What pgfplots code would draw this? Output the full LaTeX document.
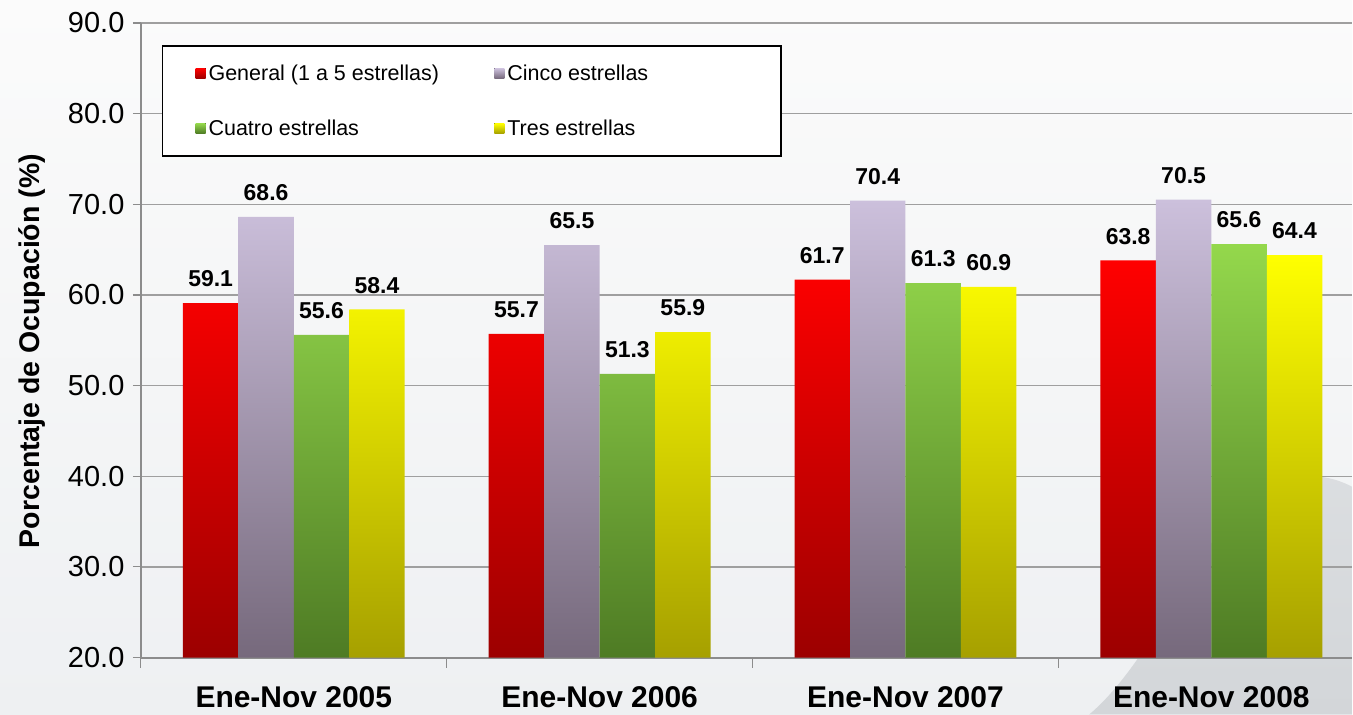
\documentclass[border=0pt]{standalone}
\usepackage{pgfplots}
\pgfplotsset{compat=1.18}
\usepackage{fontspec}
\setmainfont{Liberation Sans}
\definecolor{rtop}{HTML}{FF0000}\definecolor{rbot}{HTML}{9C0000}
\definecolor{ptop}{HTML}{CCC0DC}\definecolor{pbot}{HTML}{76697C}
\definecolor{gtop}{HTML}{94D84C}\definecolor{gbot}{HTML}{4E7B24}
\definecolor{ytop}{HTML}{FFFF00}\definecolor{ybot}{HTML}{A6A000}
\definecolor{bgtop}{HTML}{FBFBFB}\definecolor{bgbot}{HTML}{EEF0F2}
\definecolor{mtn}{HTML}{D3D6D9}
\definecolor{axgray}{HTML}{8C8C8C}
\begin{document}
\begin{tikzpicture}[x=1pt,y=1pt]
\shade[top color=bgtop,bottom color=bgbot] (0,0) rectangle (1353,715);
\shade[top color=mtn!70!bgbot,bottom color=mtn] (1090,0) .. controls (1150,50) and (1200,170) .. (1240,205) .. controls (1270,235) and (1310,250) .. (1353,228) -- (1353,0) -- cycle;
\begin{axis}[
  at={(141pt,57pt)}, anchor=south west,
  scale only axis, width=1212pt, height=635pt,
  ymin=20, ymax=90, ytick={20,30,...,90},
  xmin=-0.5, xmax=3.46,
  ybar=0pt, bar width=55.5pt,
  xtick={0,1,2,3},
  xticklabels={Ene-Nov 2005,Ene-Nov 2006,Ene-Nov 2007,Ene-Nov 2008},
  minor xtick={-0.5,0.5,1.5,2.5,3.5},
  major x tick style={draw=none},
  minor x tick style={axgray, line width=1.2pt},
  minor tick length=10pt,
  y tick style={axgray, line width=1.2pt},
  major tick length=8pt,
  tick align=outside,
  axis x line*=bottom, axis y line*=left,
  axis line style={axgray, line width=2pt, -},
  ymajorgrids, grid style={gray!75, line width=1.3pt},
  /pgf/number format/assume math mode=true,
  yticklabel={\pgfmathprintnumber[fixed,fixed zerofill,precision=1]{\tick}},
  yticklabel style={font=\fontsize{29}{29}\selectfont, xshift=-5pt},
  xticklabel style={font=\bfseries\fontsize{30}{30}\selectfont, yshift=-18pt},
  ylabel={Porcentaje de Ocupación (\%)},
  ylabel style={font=\bfseries\fontsize{28.5}{28.5}\selectfont, at={(axis description cs:-0.09,0.483)}, anchor=center, rotate=0},
  nodes near coords={\pgfmathprintnumber[fixed,fixed zerofill,precision=1]{\pgfplotspointmeta}},
  every node near coord/.append style={font=\bfseries\fontsize{23}{23}\selectfont, inner sep=0pt, yshift=16pt},
  legend columns=2,
  legend style={at={(axis description cs:0.0173,0.965)}, anchor=north west,
    draw=black, line width=1.5pt, fill=white,
    inner xsep=33pt, inner ysep=0pt,
    font=\fontsize{21.5}{21.5}\selectfont,
    nodes={inner sep=0pt, anchor=west},
    /tikz/column sep=0pt, /tikz/row sep=0pt},
  legend image code/.code={
    \pgfpathrectangle{\pgfpoint{0pt}{-27.5pt}}{\pgfpoint{13pt}{55pt}}\pgfusepath{use as bounding box}
    \fill[#1,draw=none] (0pt,-5pt) rectangle (10pt,5pt);},
]
\addplot[top color=rtop,bottom color=rbot,draw=none] coordinates {(0,59.1) (1,55.7) (2,61.7) (3,63.8)};
\addlegendentry{\makebox[286pt][l]{General (1 a 5 estrellas)}}
\addplot[top color=ptop,bottom color=pbot,draw=none] coordinates {(0,68.6) (1,65.5) (2,70.4) (3,70.5)};
\addlegendentry{\makebox[241pt][l]{Cinco estrellas}}
\addplot[top color=gtop,bottom color=gbot,draw=none] coordinates {(0,55.6) (1,51.3) (2,61.3) (3,65.6)};
\addlegendentry{\makebox[286pt][l]{Cuatro estrellas}}
\addplot[top color=ytop,bottom color=ybot,draw=none] coordinates {(0,58.4) (1,55.9) (2,60.9) (3,64.4)};
\addlegendentry{\makebox[241pt][l]{Tres estrellas}}
\end{axis}
\end{tikzpicture}
\end{document}
